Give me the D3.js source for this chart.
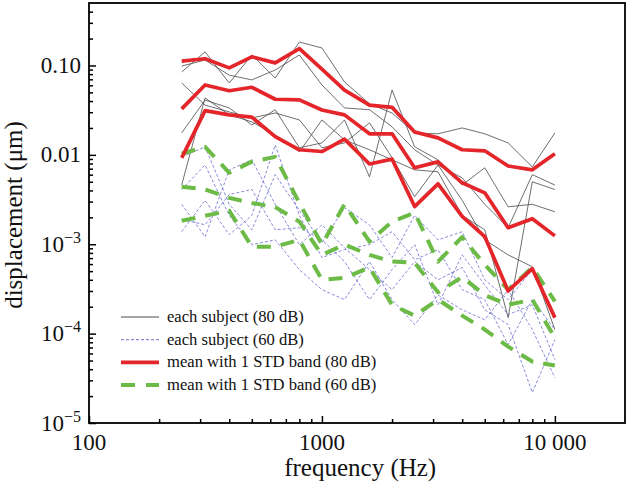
<!DOCTYPE html>
<html>
<head>
<meta charset="utf-8">
<script src="https://cdn.jsdelivr.net/npm/d3@7"></script>
<style>
  body { margin: 0; background: #fff; }
</style>
</head>
<body>
<div id="chart-container"></div>
<script>
// 1/3-octave frequencies (Hz)
var freqs = [250, 315, 400, 500, 630, 800, 1000, 1250, 1600, 2000, 2500, 3150, 4000, 5000, 6300, 8000, 10000];

// each subject, 80 dB (um)
var subj80 = [
    [0.0845, 0.142, 0.0637, 0.131, 0.0724, 0.183, 0.157, 0.0655, 0.0372, 0.0294, 0.0176, 0.0172, 0.020, 0.0172, 0.0136, 0.00734, 0.0176],
    [0.0986, 0.115, 0.078, 0.069, 0.089, 0.131, 0.0605, 0.0335, 0.032, 0.0206, 0.0114, 0.0077, 0.00553, 0.0028, 0.00153, 0.0060, 0.0046],
    [0.0176, 0.041, 0.0335, 0.0216, 0.032, 0.012, 0.0136, 0.0246, 0.00568, 0.053, 0.0123, 0.0088, 0.0046, 0.00716, 0.00262, 0.0028, 0.00231],
    [0.0046, 0.0434, 0.028, 0.0234, 0.0167, 0.0108, 0.0246, 0.0147, 0.0114, 0.0088, 0.0068, 0.00646, 0.0021, 0.00145, 0.000151, 0.00499, 0.0041],
    [0.0637, 0.036, 0.0302, 0.0259, 0.0294, 0.0246, 0.012, 0.0136, 0.0228, 0.0093, 0.0034, 0.0077, 0.0031, 0.00112, 0.00076, 0.00056, 0.000111]
];

// each subject, 60 dB (um)
var subj60 = [
    [0.0095, 0.0123, 0.0028, 0.00145, 0.0060, 0.0024, 0.00104, 0.00256, 0.00165, 0.00071, 0.0021, 0.00112, 0.00138, 0.0004, 0.00024, 0.00052, 0.000151],
    [0.00138, 0.0031, 0.00128, 0.0021, 0.0129, 0.0021, 0.00071, 0.00087, 0.00099, 0.00138, 0.00067, 0.00087, 0.00031, 0.00024, 0.0000753, 0.00024, 0.000111],
    [0.0028, 0.00121, 0.0068, 0.0088, 0.0028, 0.00099, 0.00165, 0.00091, 0.00052, 0.00031, 0.00064, 0.0004, 0.00055, 0.000185, 0.000126, 0.0000219, 0.0000857],
    [0.0041, 0.0077, 0.0021, 0.00099, 0.00112, 0.00052, 0.00031, 0.00024, 0.00064, 0.00024, 0.000126, 0.00027, 0.000185, 0.000143, 0.00031, 0.000111, 0.0000322],
    [0.0019, 0.00165, 0.0036, 0.0041, 0.00145, 0.00153, 0.00112, 0.00064, 0.00024, 0.00052, 0.00099, 0.00021, 0.00076, 0.00035, 0.000163, 0.00021, 0.0000512]
];

// mean +/- 1 STD, 80 dB
var mean80Upper = [0.112, 0.119, 0.094, 0.125, 0.107, 0.154, 0.091, 0.053, 0.036, 0.034, 0.018, 0.0155, 0.0114, 0.0111, 0.0075, 0.0068, 0.0103];
var mean80 = [0.0327, 0.0605, 0.0522, 0.057, 0.0419, 0.0412, 0.0318, 0.028, 0.0172, 0.0172, 0.00716, 0.00835, 0.00487, 0.00376, 0.00153, 0.00193, 0.00124];
var mean80Lower = [0.00925, 0.0313, 0.028, 0.0264, 0.016, 0.0114, 0.0109, 0.015, 0.0079, 0.00895, 0.00264, 0.00474, 0.00205, 0.00122, 0.0003, 0.000532, 0.000151];

// mean +/- 1 STD, 60 dB
var mean60Upper = [0.0103, 0.0123, 0.0063, 0.0084, 0.0095, 0.0029, 0.00099, 0.0028, 0.00107, 0.00179, 0.00225, 0.00064, 0.0012, 0.00059, 0.00031, 0.00055, 0.00023];
var mean60 = [0.0044, 0.0041, 0.0033, 0.0029, 0.0026, 0.00179, 0.00076, 0.00099, 0.00076, 0.00064, 0.00062, 0.00029, 0.00043, 0.00027, 0.00021, 0.00024, 0.00009];
var mean60Lower = [0.00183, 0.00208, 0.00237, 0.00094, 0.00094, 0.00112, 0.0004, 0.00042, 0.00055, 0.00021, 0.000159, 0.00024, 0.000159, 0.000111, 0.0000716, 0.0000487, 0.0000439];

// tick labels
var xTickValues = [100, 1000, 10000];
var xTickLabels = ["100", "1000", "10 000"];
var yTickValues = [1e-5, 1e-4, 1e-3, 0.01, 0.1];
var yTickBase = ["10", "10", "10", "0.01", "0.10"];
var yTickExp = ["\u22125", "\u22124", "\u22123", "", ""];

var legendLabels = ["each subject (80 dB)", "each subject (60 dB)", "mean with 1 STD band (80 dB)", "mean with 1 STD band (60 dB)"];

var serif = "'Liberation Serif', 'DejaVu Serif', serif";

var margin = {top: 3, right: 3, bottom: 63, left: 89},
    width = 628 - margin.left - margin.right,
    height = 486 - margin.top - margin.bottom;

var svg = d3.select("#chart-container")
    .append("svg")
    .attr("width", 628)
    .attr("height", 486)
    .attr("font-family", serif)
    .style("font-family", serif);

var plot = svg.append("g")
    .attr("transform", "translate(" + margin.left + "," + margin.top + ")");

var xScale = d3.scaleLog().domain([100, 20000]).range([0, width]);
var yScale = d3.scaleLog().domain([1e-5, 0.5]).range([height, 0]);

var line = d3.line()
    .x(function(d) { return xScale(d.f); })
    .y(function(d) { return yScale(d.v); });

function toPoints(vals) {
    return vals.map(function(v, i) { return {f: freqs[i], v: v}; });
}

var styles = {
    s80: {stroke: "#4a4a4a", width: 0.8, dash: null},
    s60: {stroke: "#6b6bd0", width: 0.8, dash: "3,2"},
    m80: {stroke: "#e4262b", width: 3.7, dash: null},
    m60: {stroke: "#6cbb46", width: 4, dash: "14,10"}
};

function drawLine(g, vals, st) {
    g.append("path")
        .datum(toPoints(vals))
        .attr("fill", "none")
        .attr("stroke", st.stroke)
        .attr("stroke-width", st.width)
        .attr("stroke-dasharray", st.dash)
        .attr("stroke-linejoin", "round")
        .attr("d", line);
}

var lines = plot.append("g");
subj80.forEach(function(s) { drawLine(lines, s, styles.s80); });
subj60.forEach(function(s) { drawLine(lines, s, styles.s60); });
[mean60Upper, mean60, mean60Lower].forEach(function(s) { drawLine(lines, s, styles.m60); });
[mean80Upper, mean80, mean80Lower].forEach(function(s) { drawLine(lines, s, styles.m80); });

// minor ticks
var xMinor = [], yMinor = [];
[100, 1000].forEach(function(d) { for (var k = 2; k <= 9; k++) xMinor.push(k * d); });
[1e-5, 1e-4, 1e-3, 0.01, 0.1].forEach(function(d) { for (var k = 2; k <= 9; k++) if (k * d < 0.5) yMinor.push(k * d); });

function styleAxis(g) {
    g.select(".domain").remove();
    g.selectAll("line").attr("stroke", "#000").attr("stroke-width", 1.5);
}

plot.append("g")
    .attr("transform", "translate(0," + height + ")")
    .call(d3.axisBottom(xScale).tickValues(xMinor).tickSize(-4).tickFormat(""))
    .call(styleAxis);
plot.append("g")
    .attr("transform", "translate(0," + height + ")")
    .call(d3.axisBottom(xScale).tickValues(xTickValues).tickSize(-7).tickFormat(""))
    .call(styleAxis);
plot.append("g")
    .call(d3.axisLeft(yScale).tickValues(yMinor).tickSize(-4).tickFormat(""))
    .call(styleAxis);
plot.append("g")
    .call(d3.axisLeft(yScale).tickValues(yTickValues).tickSize(-7).tickFormat(""))
    .call(styleAxis);

// frame
plot.append("rect")
    .attr("width", width)
    .attr("height", height)
    .attr("fill", "none")
    .attr("stroke", "#000")
    .attr("stroke-width", 1.8);

// x tick labels
xTickValues.forEach(function(v, i) {
    plot.append("text")
        .attr("x", xScale(v))
        .attr("y", height + 27)
        .attr("text-anchor", "middle")
        .attr("fill", "#111")
        .style("font-size", "23px")
        .text(xTickLabels[i]);
});

// y tick labels
yTickValues.forEach(function(v, i) {
    var t = plot.append("text")
        .attr("x", -8)
        .attr("y", yScale(v) + 7.5)
        .attr("text-anchor", "end")
        .attr("fill", "#111")
        .style("font-size", "23px");
    t.append("tspan").text(yTickBase[i]);
    if (yTickExp[i]) {
        t.append("tspan")
            .attr("dy", -9)
            .style("font-size", "16px")
            .text(yTickExp[i]);
    }
});

// axis titles
svg.append("text")
    .attr("x", margin.left + width * 0.506)
    .attr("y", 476)
    .attr("text-anchor", "middle")
    .attr("fill", "#111")
    .style("font-size", "25px")
    .text("frequency (Hz)");

svg.append("text")
    .attr("transform", "rotate(-90)")
    .attr("x", -215)
    .attr("y", 22)
    .attr("text-anchor", "middle")
    .attr("fill", "#111")
    .style("font-size", "25px")
    .text("displacement (\u03bcm)");

// legend
var legend = svg.append("g").attr("transform", "translate(121,317)");
var legendStyles = [styles.s80, styles.s60, styles.m80, styles.m60];
legendLabels.forEach(function(lab, i) {
    var row = legend.append("g").attr("transform", "translate(0," + (i * 22.7) + ")");
    var st = legendStyles[i];
    row.append("line")
        .attr("x1", 0).attr("x2", 38)
        .attr("stroke", st.stroke)
        .attr("stroke-width", st.width === 0.8 ? 1 : st.width)
        .attr("stroke-dasharray", st.dash === "14,10" ? "14,11" : st.dash);
    row.append("text")
        .attr("x", 46)
        .attr("y", 5)
        .attr("fill", "#111")
        .style("font-size", "16.6px")
        .text(lab);
});
</script>
</body>
</html>
